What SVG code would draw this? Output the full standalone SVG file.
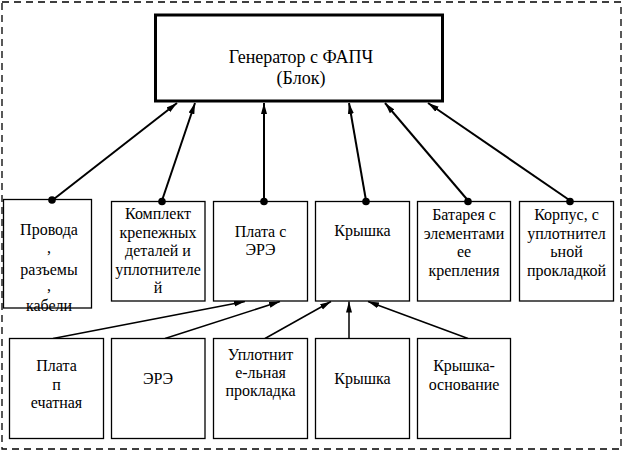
<svg xmlns="http://www.w3.org/2000/svg" width="626" height="451" viewBox="0 0 626 451">
<style>
svg g text{font-family:'Liberation Serif','Times New Roman',serif !important;font-size:16px;text-anchor:middle;fill:#000}
svg g text.t{font-size:18px}
.frame{fill:none;stroke:#000;stroke-width:1.3;stroke-dasharray:7 5}
.box{fill:#fff;stroke:#000;stroke-width:1.3}
.main{fill:#fff;stroke:#000;stroke-width:3}
.up{stroke:#000;stroke-width:2;fill:none;marker-end:url(#ah)}
.low{stroke:#000;stroke-width:1.5;fill:none;marker-end:url(#ah)}
.dot{fill:#000}
</style>
<defs>
<marker id="ah" markerUnits="userSpaceOnUse" markerWidth="12" markerHeight="8" viewBox="0 0 12 8" refX="11" refY="4" orient="auto">
<path d="M0,1 L11,4 L0,7 Z" fill="#000"/>
</marker>
</defs>
<rect x="0" y="0" width="626" height="451" fill="#fff"/>
<rect class="frame" x="2" y="2" width="619" height="447"/>
<g id="connectors">
<line class="up" x1="52" y1="200.5" x2="177" y2="103"/>
<line class="up" x1="162" y1="200.5" x2="195" y2="103"/>
<line class="up" x1="264" y1="200.5" x2="264" y2="103"/>
<line class="up" x1="366" y1="200.5" x2="349" y2="103"/>
<line class="up" x1="468" y1="200.5" x2="385" y2="103"/>
<line class="up" x1="570" y1="200.5" x2="428" y2="103"/>
<line class="low" x1="53" y1="338.5" x2="245" y2="301.5"/>
<line class="low" x1="165" y1="338.5" x2="280" y2="301.5"/>
<line class="low" x1="265" y1="338.5" x2="331" y2="301.5"/>
<line class="low" x1="349" y1="338.5" x2="349" y2="301.5"/>
<line class="low" x1="468" y1="338.5" x2="368" y2="301.5"/>
</g>
<g id="main">
<rect class="main" x="155.5" y="15" width="287" height="86"/>
<text class="t" x="301" y="63" style="font-family:'Liberation Serif',serif">Генератор с ФАПЧ</text>
<text class="t" x="301" y="84" style="font-family:'Liberation Serif',serif">(Блок)</text>
</g>
<g id="m1">
<rect class="box" x="3.5" y="199.5" width="88" height="108.5"/>
<text x="49" y="235">Провода</text>
<text x="49" y="253">,</text>
<text x="49" y="275">разъемы</text>
<text x="49" y="291">,</text>
<text x="49" y="311">кабели</text>
<circle class="dot" cx="52" cy="200" r="3.8"/>
</g>
<g id="m2">
<rect class="box" x="111.5" y="201.5" width="93.5" height="99.5"/>
<text x="158" y="219">Комплект</text>
<text x="158" y="237.5">крепежных</text>
<text x="158" y="256">деталей и</text>
<text x="158" y="274.5">уплотнителе</text>
<text x="158" y="293">й</text>
<circle class="dot" cx="162" cy="201.5" r="3.8"/>
</g>
<g id="m3">
<rect class="box" x="213.5" y="201.5" width="94" height="99.5"/>
<text x="260.5" y="237">Плата с</text>
<text x="260.5" y="255">ЭРЭ</text>
<circle class="dot" cx="264" cy="201.5" r="3.8"/>
</g>
<g id="m4">
<rect class="box" x="315.5" y="201.5" width="94" height="99.5"/>
<text x="362.5" y="236">Крышка</text>
<circle class="dot" cx="366" cy="201.5" r="3.8"/>
</g>
<g id="m5">
<rect class="box" x="417.5" y="201.5" width="93" height="99.5"/>
<text x="464" y="220">Батарея с</text>
<text x="464" y="238.5">элементами</text>
<text x="464" y="257">ее</text>
<text x="464" y="275.5">крепления</text>
<circle class="dot" cx="468" cy="201.5" r="3.8"/>
</g>
<g id="m6">
<rect class="box" x="519.5" y="201.5" width="94" height="99.5"/>
<text x="566.5" y="220">Корпус, с</text>
<text x="566.5" y="238.5">уплотнител</text>
<text x="566.5" y="257">ьной</text>
<text x="566.5" y="275.5">прокладкой</text>
<circle class="dot" cx="570" cy="201.5" r="3.8"/>
</g>
<g id="b1">
<rect class="box" x="9.5" y="338.5" width="94" height="100"/>
<text x="56.5" y="371">Плата</text>
<text x="56.5" y="389.5">п</text>
<text x="56.5" y="408">ечатная</text>
</g>
<g id="b2">
<rect class="box" x="111.5" y="338.5" width="93.5" height="100"/>
<text x="158" y="384">ЭРЭ</text>
</g>
<g id="b3">
<rect class="box" x="213.5" y="338.5" width="94" height="100"/>
<text x="260.5" y="360">Уплотнит</text>
<text x="260.5" y="378">е-льная</text>
<text x="260.5" y="396">прокладка</text>
</g>
<g id="b4">
<rect class="box" x="315.5" y="338.5" width="94" height="100"/>
<text x="362.5" y="384">Крышка</text>
</g>
<g id="b5">
<rect class="box" x="417.5" y="338.5" width="93" height="100"/>
<text x="464" y="371">Крышка-</text>
<text x="464" y="389.5">основание</text>
</g>
</svg>
